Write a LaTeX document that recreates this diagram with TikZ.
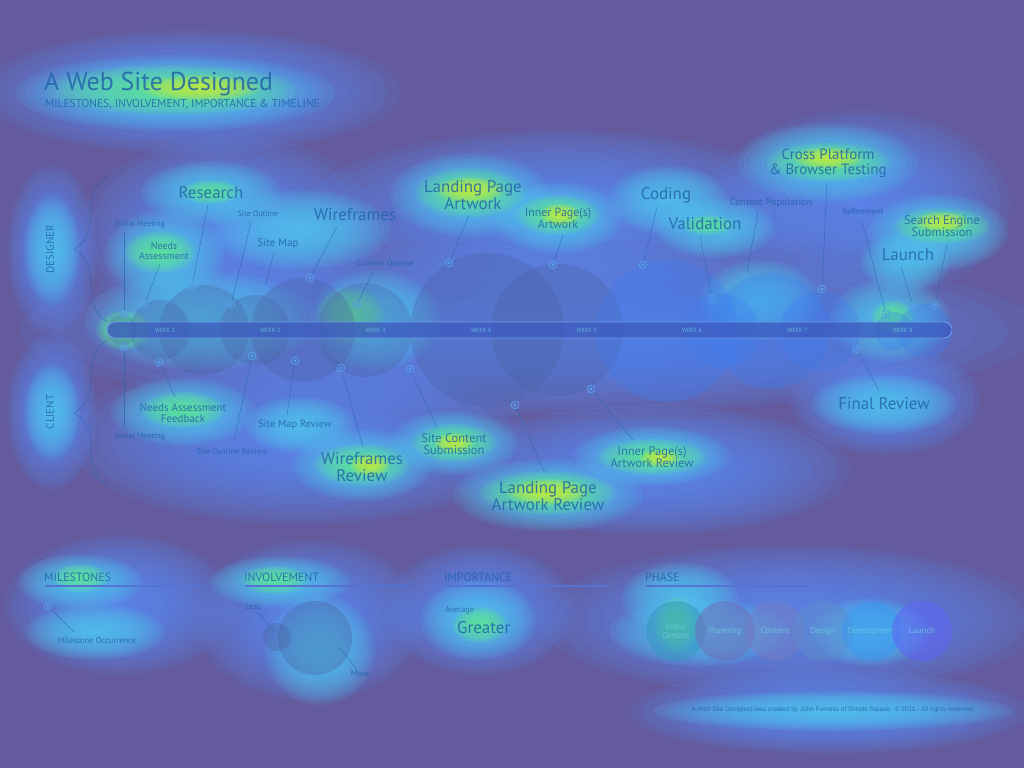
\documentclass[tikz,border=0pt]{standalone}
\usepackage{fontspec}
\setmainfont{PT Sans}
\newfontfamily\footfont{Liberation Sans}
\usetikzlibrary{decorations.pathreplacing}
\definecolor{bg}{RGB}{99,91,158}
\definecolor{hblue}{RGB}{90,140,245}
\definecolor{hcyan}{RGB}{80,200,240}
\definecolor{hgreen}{RGB}{95,232,150}
\definecolor{hyellow}{RGB}{200,238,60}
\definecolor{ink}{RGB}{35,100,170}
\definecolor{bar}{RGB}{60,90,190}
\definecolor{barline}{RGB}{120,170,245}
\definecolor{bubblec}{RGB}{75,95,160}
\definecolor{bluebub}{RGB}{60,125,240}
\definecolor{stonec}{RGB}{85,160,235}
\definecolor{weekc}{RGB}{110,205,225}
\definecolor{rulec}{RGB}{85,115,210}
\definecolor{ph1}{RGB}{55,150,190}
\definecolor{ph2}{RGB}{110,110,185}
\definecolor{ph3}{RGB}{115,125,195}
\definecolor{ph4}{RGB}{95,140,205}
\definecolor{ph5}{RGB}{60,150,240}
\definecolor{ph6}{RGB}{95,100,245}

\begin{document}
\begin{tikzpicture}[x=1bp, y=-1bp,
  heat/.style={fill=#1, fill opacity=0.115},
  bubble/.style={fill=#1, fill opacity=0.3},
  txt/.style={text=ink, text opacity=0.85, align=center, inner sep=1pt,
    font=\fontsize{#1}{#1}\selectfont},
  week/.style={text=weekc, text opacity=0.8, inner sep=0pt, font=\fontsize{6}{6}\selectfont},
  stone/.style={circle, draw=stonec, line width=0.8pt, inner sep=0pt, minimum size=7.5bp,
    path picture={\fill[stonec] (path picture bounding box.center) circle (1.7bp);}},
  leader/.style={draw=ink, draw opacity=0.65, line width=0.5pt},
  bracket/.style={draw=ink, draw opacity=0.6, line width=0.6pt, decorate,
    decoration={brace, amplitude=34bp}},
  rulebar/.style={draw=rulec, line width=1.2pt},
  phase/.style={circle, minimum size=60bp, inner sep=0pt, fill=#1, fill opacity=0.55,
    text=weekc, text opacity=0.8, align=center, font=\fontsize{8.5}{9}\selectfont}]
\useasboundingbox (0,0) rectangle (1024,768);
\fill[bg] (0,0) rectangle (1024,768);

\foreach \c/\x/\y/\a/\b in {
  hblue/190/92/210/62, hblue/52/250/45/85, hblue/52/412/45/78, hblue/230/235/150/100,
  hblue/560/215/260/85, hblue/860/205/150/95, hblue/530/330/510/85, hblue/300/440/230/85,
  hblue/650/470/200/65, hblue/885/400/95/55, hblue/120/605/115/70, hblue/310/620/115/80,
  hblue/480/610/95/65, hblue/790/620/250/75, hblue/830/712/200/42,
  hcyan/175/93/160/38, hcyan/52/250/28/55, hcyan/52/412/28/48, hcyan/211/193/70/32,
  hcyan/165/255/60/45, hcyan/300/230/90/40, hcyan/470/195/80/42, hcyan/558/218/65/36,
  hcyan/668/200/60/34, hcyan/715/228/60/30, hcyan/828/163/90/40, hcyan/938/232/70/38,
  hcyan/905/262/45/30, hcyan/200/320/115/50, hcyan/375/320/65/50, hcyan/890/320/60/42,
  hcyan/760/300/60/40, hcyan/183/412/72/34, hcyan/300/425/55/28, hcyan/362/465/70/36,
  hcyan/454/443/64/32, hcyan/548/495/95/36, hcyan/652/456/78/30, hcyan/884/404/72/30,
  hcyan/80/582/62/28, hcyan/95/632/70/28, hcyan/280/582/70/26, hcyan/320/650/55/55,
  hcyan/478/620/58/40, hcyan/680/598/58/36, hcyan/700/632/90/34, hcyan/870/632/60/34,
  hcyan/833/711/180/20,
  hgreen/172/90/125/25, hgreen/160/252/36/21, hgreen/211/192/30/12, hgreen/470/193/55/25,
  hgreen/558/215/42/20, hgreen/828/162/62/20, hgreen/942/226/48/18, hgreen/183/410/42/18,
  hgreen/362/465/48/21, hgreen/454/443/42/19, hgreen/548/493/68/22, hgreen/652/457/55/18,
  hgreen/350/315/34/28, hgreen/124/330/28/20, hgreen/80/578/28/14, hgreen/275/580/34/14,
  hgreen/480/625/28/18, hgreen/676/625/22/28, hgreen/893/318/22/18, hgreen/708/225/26/10,
  hyellow/200/88/60/13, hyellow/470/190/34/13, hyellow/560/215/20/11, hyellow/828/158/34/11,
  hyellow/942/222/27/10, hyellow/548/492/42/13, hyellow/370/465/20/11, hyellow/454/443/20/10,
  hyellow/660/458/20/9}
  \foreach \k in {1,...,16}
    \fill[heat=\c] (\x,\y) ellipse [x radius={\a*\k/16*1bp}, y radius={\b*\k/16*1bp}];

\foreach \x/\r in {122/15, 160/30, 204/45, 255/35, 303/52, 365/47, 487/77, 557/66}
  \fill[bubble=bubblec] (\x,330) circle (\r bp);
\foreach \x/\r in {667/71, 722/37, 771/58, 820/40, 894/19, 925/27}
  \fill[bubble=bluebub] (\x,331) circle (\r bp);

\filldraw[fill=bar, fill opacity=0.75, draw=barline, draw opacity=0.8, line width=0.8pt,
  rounded corners=8bp] (107,322) rectangle (952,338);
\foreach \i in {1,...,8}
  \node[week] (w\i) at ({165+105.4*(\i-1)},330) {WEEK \i};

\draw[bracket] (108,322) -- (108,176);
\draw[bracket] (108,486) -- (108,340);
\node[txt=11, rotate=90] (designer) at (50,249) {DESIGNER};
\node[txt=11, rotate=90] (client) at (50,412) {CLIENT};

\foreach \n/\x/\y/\u/\v in {
  a1/124/314/124/232, a2/145/304/160/264, a3/192/286/208/205, a4/231/305/251/222,
  a5/264/290/274/253, a6/310/278/337/227, a7/357/304/373/272, a8/449/263/469/215,
  a9/553/265/563/235, a10/643/265/657/207, a11/712/299/700/236, a12/746/277/758/212,
  a13/822/289/827/182, a14/886/314/862/222, a15/913/306/901/267, a16/935/305/947/244,
  b1/124/347/124/427, b2/159/362/175/397, b3/252/356/234/441, b4/295/361/287/415,
  b5/341/368/363/447, b6/410/369/437/428, b7/515/405/545/473, b8/591/389/633/440,
  b9/857/349/879/391, m0/48/606/74/632} {
  \node[stone] (\n) at (\x,\y) {};
  \coordinate (\n-e) at (\u,\v);
  \draw[leader] (\n) -- (\n-e);
}

\node[txt=26, anchor=west] (title) at (43,84) {A Web Site Designed};
\node[txt=11.5, anchor=west] (subtitle) at (44,104) {MILESTONES, INVOLVEMENT, IMPORTANCE \& TIMELINE};

\node[txt=8] (a1l) at (140,225) {Initial Meeting};
\node[txt=10] (a2l) at (164,251) {Needs\\Assessment};
\node[txt=17] (a3l) at (211,193) {Research};
\node[txt=8] (a4l) at (258,214) {Site Outline};
\node[txt=11] (a5l) at (278,244) {Site Map};
\node[txt=17] (a6l) at (355,215) {Wireframes};
\node[txt=8.5] (a7l) at (385,264) {Content Outline};
\node[txt=17] (a8l) at (473,195) {Landing Page\\Artwork};
\node[txt=12] (a9l) at (558,218) {Inner Page(s)\\Artwork};
\node[txt=17] (a10l) at (666,195) {Coding};
\node[txt=17] (a11l) at (705,224) {Validation};
\node[txt=10] (a12l) at (771,203) {Content Population};
\node[txt=15] (a13l) at (828,163) {Cross Platform\\\& Browser Testing};
\node[txt=8.5] (a14l) at (863,212) {Refinement};
\node[txt=17] (a15l) at (908,255) {Launch};
\node[txt=12.5] (a16l) at (942,226) {Search Engine\\Submission};

\node[txt=8] (b1l) at (140,437) {Initial Meeting};
\node[txt=11] (b2l) at (183,413) {Needs Assessment\\Feedback};
\node[txt=8.5] (b3l) at (232,452) {Site Outline Review};
\node[txt=10.5] (b4l) at (295,425) {Site Map Review};
\node[txt=17] (b5l) at (362,467) {Wireframes\\Review};
\node[txt=12.5] (b6l) at (454,444) {Site Content\\Submission};
\node[txt=17] (b7l) at (548,496) {Landing Page\\Artwork Review};
\node[txt=12.5] (b8l) at (652,457) {Inner Page(s)\\Artwork Review};
\node[txt=17] (b9l) at (884,404) {Final Review};

\node[txt=12, anchor=west] (milestones) at (43,577) {MILESTONES};
\node[txt=12, anchor=west] (involvement) at (243,577) {INVOLVEMENT};
\node[txt=12, anchor=west] (importance) at (443,577) {IMPORTANCE};
\node[txt=12, anchor=west] (phasehd) at (644,577) {PHASE};
\draw[rulebar] (45,586) -- (205,586);
\draw[rulebar] (245,586) -- (408,586);
\draw[rulebar] (445,586) -- (607,586);
\draw[rulebar] (646,586) -- (808,586);

\node[txt=8.5] (m0l) at (97,641) {Milestone Occurrence};
\node[circle, minimum size=28bp, fill=bubblec, fill opacity=0.35] (invless) at (277,637) {};
\node[circle, minimum size=74bp, fill=bubblec, fill opacity=0.35] (invmore) at (315,638) {};
\node[txt=8.5] (lessl) at (253,607) {Less};
\node[txt=8.5] (morel) at (360,674) {More};
\coordinate (lessc) at (275,632);
\coordinate (morec) at (340,648);
\draw[leader] (lessl) -- (lessc);
\draw[leader] (morec) -- (morel);
\node[txt=8.5, anchor=west] (average) at (444,610) {Average};
\node[txt=17, anchor=west] (greater) at (456,628) {Greater};

\foreach \i/\x/\c/\t in {1/676/ph1/{Initial\\Contact}, 2/725/ph2/Planning, 3/775/ph3/Content,
  4/823/ph4/Design, 5/872/ph5/Development, 6/922/ph6/Launch}
  \node[phase=\c] (p\i) at (\x,631) {\t};

\node[txt=6.5, font=\footfont\fontsize{6.5}{6.5}\selectfont] (footer) at (833,710)
  {A Web Site Designed was created by John Furness of Simple Square. \copyright{} 2011 - All rights reserved.};
\end{tikzpicture}
\end{document}
